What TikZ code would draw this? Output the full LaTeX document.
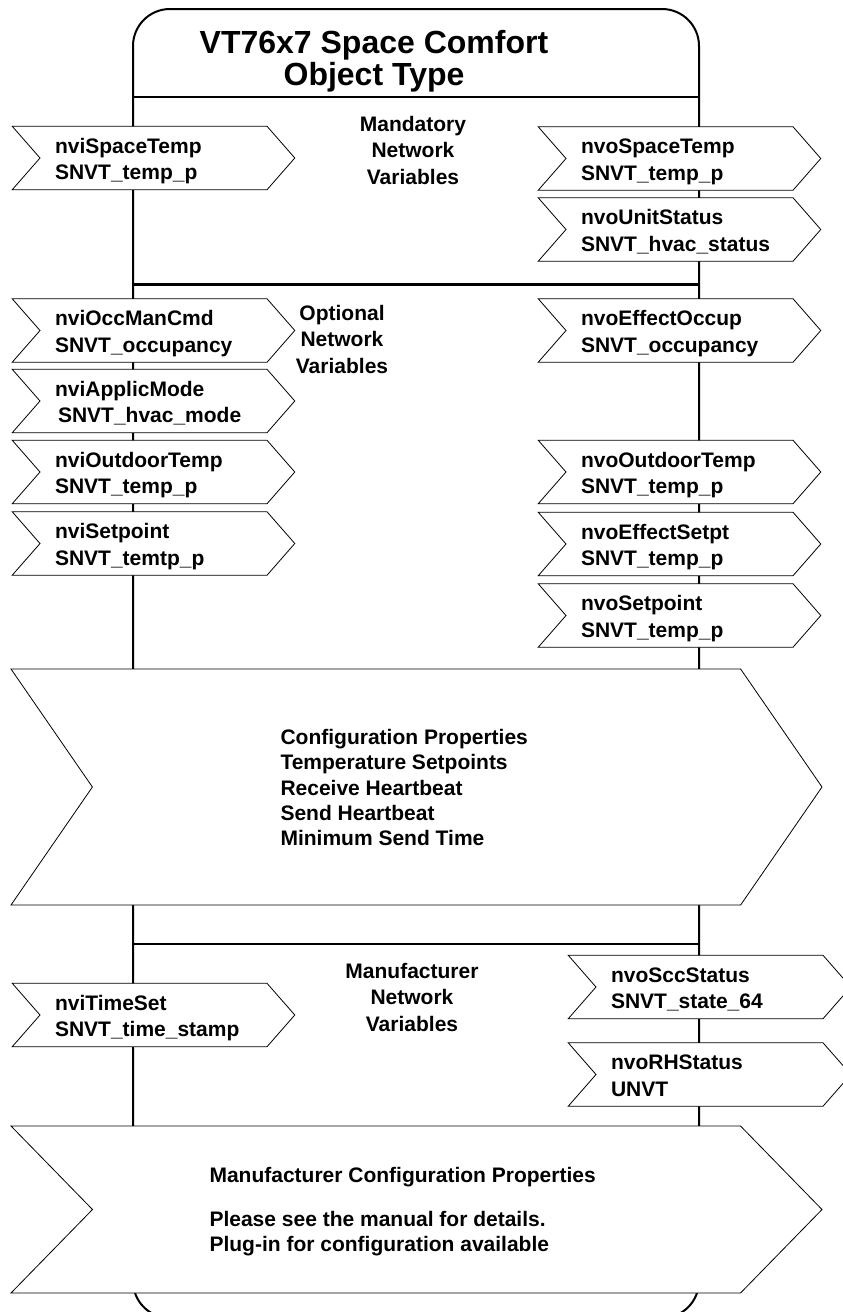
\documentclass[tikz,border=0pt]{standalone}
\usepackage{fontspec}
\setmainfont{Liberation Sans}
\usetikzlibrary{shapes.symbols}
\newcommand{\nvFont}{\fontsize{21}{26.5}\selectfont\bfseries}
\newcommand{\cpFont}{\fontsize{21}{25.3}\selectfont\bfseries}
\newcommand{\titleFont}{\fontsize{32}{32}\selectfont\bfseries}

\begin{document}
\begin{tikzpicture}[x=1pt,y=-1pt]
 \newcommand{\xIn}{153.5}
 \newcommand{\xOut}{679.5}
 \newcommand{\xMan}{709.5}
	\tikzset{nvbox/.style = {signal,signal to=east,signal from=west,signal pointer angle=97.6,draw,fill=white,line width=0.8pt,text width=197pt,text height=20pt,text depth=29.4pt,inner xsep=15pt,inner ysep=0pt,minimum height=63.5pt,align=left,font=\nvFont}}
	\tikzset{cpbox/.style = {signal,signal to=east,signal from=west,draw,fill=white,line width=0.8pt,inner sep=0pt,minimum width=811pt}}
	\tikzstyle{objframe} = [line width=2pt,rounded corners=37pt]
	\tikzstyle{sepline} = [line width=2.2pt]
	\tikzstyle{grouptext} = [align=center,font=\nvFont]
	\useasboundingbox (0,0) rectangle (843,1312);
	%object frame
	\draw[objframe] (133,9) rectangle (699,1318);
	\draw[sepline] (133,97) -- (699,97);
	\draw[sepline] (133,284.5) -- (699,284.5);
	\draw[sepline] (133,944) -- (699,944);
	\node[align=center,font=\titleFont] (title) at (374,61.5) {VT76x7 Space Comfort\\Object Type};
	%mandatory
	\node[grouptext] (mand) at (413,150) {Mandatory\\Network\\Variables};
	\node[nvbox] (nviSpaceTemp) at (\xIn,158) {nviSpaceTemp\\SNVT\_temp\_p};
	\node[nvbox] (nvoSpaceTemp) at (\xOut,158.5) {nvoSpaceTemp\\SNVT\_temp\_p};
	\node[nvbox] (nvoUnitStatus) at (\xOut,229.5) {nvoUnitStatus\\SNVT\_hvac\_status};
	%optional
	\node[grouptext] (opt) at (342,339) {Optional\\Network\\Variables};
	\node[nvbox] (nviOccManCmd) at (\xIn,330.5) {nviOccManCmd\\SNVT\_occupancy};
	\node[nvbox] (nviApplicMode) at (\xIn,401) {nviApplicMode\\\hspace{3pt}SNVT\_hvac\_mode};
	\node[nvbox] (nviOutdoorTemp) at (\xIn,472) {nviOutdoorTemp\\SNVT\_temp\_p};
	\node[nvbox] (nviSetpoint) at (\xIn,543.5) {nviSetpoint\\SNVT\_temtp\_p};
	\node[nvbox] (nvoEffectOccup) at (\xOut,330.5) {nvoEffectOccup\\SNVT\_occupancy};
	\node[nvbox] (nvoOutdoorTemp) at (\xOut,472) {nvoOutdoorTemp\\SNVT\_temp\_p};
	\node[nvbox] (nvoEffectSetpt) at (\xOut,544) {nvoEffectSetpt\\SNVT\_temp\_p};
	\node[nvbox] (nvoSetpoint) at (\xOut,615.5) {nvoSetpoint\\SNVT\_temp\_p};
	%configuration properties
	\node[cpbox,minimum height=236pt,signal pointer angle=110.8] (cp) at (416.5,787) {};
	\node[anchor=west,align=left,font=\cpFont] (cpText) at (277,787.5) {Configuration Properties\\Temperature Setpoints\\Receive Heartbeat\\Send Heartbeat\\Minimum Send Time};
	%manufacturer
	\node[grouptext] (man) at (412,997) {Manufacturer\\Network\\Variables};
	\node[nvbox] (nviTimeSet) at (\xIn,1015) {nviTimeSet\\SNVT\_time\_stamp};
	\node[nvbox] (nvoSccStatus) at (\xMan,987) {nvoSccStatus\\SNVT\_state\_64};
	\node[nvbox] (nvoRHStatus) at (\xMan,1074.5) {nvoRHStatus\\UNVT};
	\node[cpbox,minimum height=167pt,signal pointer angle=91.4] (mcp) at (416.5,1209.5) {};
	\node[anchor=west,align=left,font=\cpFont] (mcpText) at (206,1211.5) {Manufacturer Configuration Properties\\[19pt]Please see the manual for details.\\Plug-in for configuration available};
\end{tikzpicture}
\end{document}
